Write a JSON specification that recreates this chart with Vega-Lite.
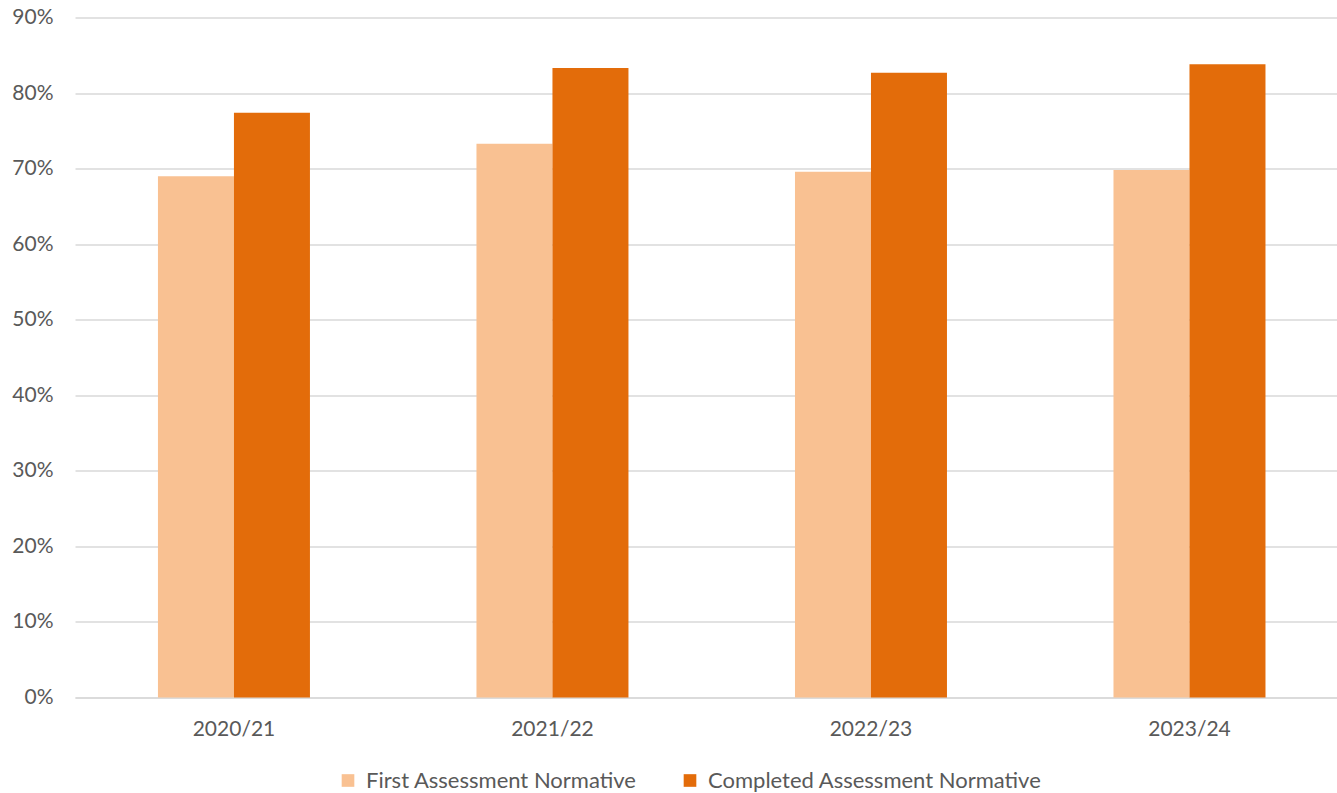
{
  "$schema": "https://vega.github.io/schema/vega-lite/v6.json",
  "width": 1262,
  "height": 680,
  "autosize": {"type": "none"},
  "padding": {"left": 75, "top": 17.5, "right": 0, "bottom": 95.5},
  "background": "#ffffff",
  "config": {
    "font": "Lato",
    "view": {"stroke": null},
    "axis": {"labelFont": "Lato", "labelColor": "#595959", "labelFontSize": 21, "titleFont": "Lato"},
    "legend": {"labelFont": "Lato", "labelColor": "#595959", "labelFontSize": 22}
  },
  "data": {
    "values": [
      {"year": "2020/21", "series": "First Assessment Normative", "value": 0.690},
      {"year": "2020/21", "series": "Completed Assessment Normative", "value": 0.774},
      {"year": "2021/22", "series": "First Assessment Normative", "value": 0.733},
      {"year": "2021/22", "series": "Completed Assessment Normative", "value": 0.833},
      {"year": "2022/23", "series": "First Assessment Normative", "value": 0.696},
      {"year": "2022/23", "series": "Completed Assessment Normative", "value": 0.827},
      {"year": "2023/24", "series": "First Assessment Normative", "value": 0.698},
      {"year": "2023/24", "series": "Completed Assessment Normative", "value": 0.838}
    ]
  },
  "mark": {"type": "bar"},
  "encoding": {
    "x": {
      "field": "year",
      "type": "nominal",
      "title": null,
      "scale": {"paddingInner": 0.5228, "paddingOuter": 0.2425, "align": 0.537},
      "axis": {"labelAngle": 0, "ticks": false, "domain": true, "domainColor": "#d9d9d9", "domainWidth": 1.5, "labelPadding": 21, "grid": false}
    },
    "xOffset": {
      "field": "series",
      "type": "nominal",
      "sort": ["First Assessment Normative", "Completed Assessment Normative"],
      "scale": {"paddingInner": 0, "paddingOuter": 0}
    },
    "y": {
      "field": "value",
      "type": "quantitative",
      "title": null,
      "scale": {"domain": [0, 0.9], "nice": false},
      "axis": {"values": [0, 0.1, 0.2, 0.3, 0.4, 0.5, 0.6, 0.7, 0.8, 0.9], "format": ".0%", "ticks": false, "domain": false, "gridColor": "#d9d9d9", "gridWidth": 1.5, "labelPadding": 22}
    },
    "color": {
      "field": "series",
      "type": "nominal",
      "sort": ["First Assessment Normative", "Completed Assessment Normative"],
      "scale": {"domain": ["First Assessment Normative", "Completed Assessment Normative"], "range": ["#F9C192", "#E36C0A"]},
      "legend": {"orient": "none", "legendX": 262, "legendY": 752, "direction": "horizontal", "title": null, "symbolType": "square", "symbolSize": 160, "symbolStrokeWidth": 0, "columnPadding": 42, "labelOffset": 7, "labelLimit": 600}
    }
  }
}
